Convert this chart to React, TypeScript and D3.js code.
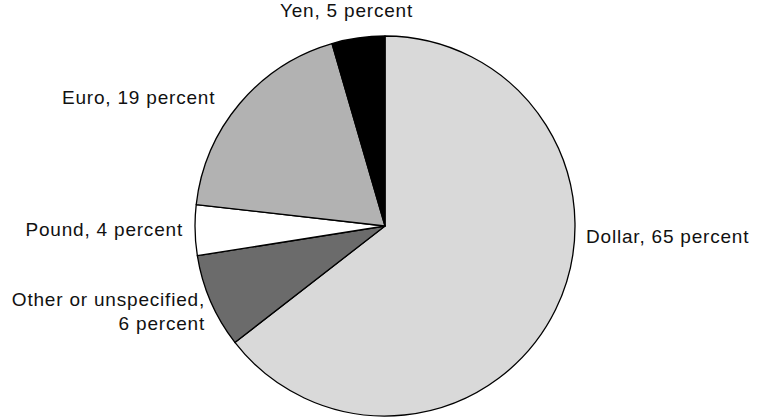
import { useEffect, useRef } from 'react';
import * as d3 from 'd3';

// slice order clockwise from 12 o'clock
const currencies = ['Dollar', 'Other or unspecified', 'Pound', 'Euro', 'Yen'];
const shares = [64.5, 8.0, 4.3, 18.7, 4.5];
const fills = ['#d9d9d9', '#6b6b6b', '#ffffff', '#b2b2b2', '#000000'];
const labelLines = [
  ['Dollar, 65 percent'],
  ['Other or unspecified,', '6 percent'],
  ['Pound, 4 percent'],
  ['Euro, 19 percent'],
  ['Yen, 5 percent'],
];
// label anchor positions (x, baseline y, anchor)
const labelPos: [number, number, string][] = [
  [586, 243, 'start'],
  [205, 306, 'end'],
  [183, 236, 'end'],
  [62, 104, 'start'],
  [280, 17, 'start'],
];

const W = 757;
const H = 417;

export default function App() {
  const svgRef = useRef<SVGSVGElement>(null);

  useEffect(() => {
    if (!svgRef.current) return;
    const svg = d3.select(svgRef.current);
    svg.selectAll('*').remove();

    const cx = 385;
    const cy = 226;
    const radius = 190;

    const pie = d3.pie<number>().value(d => d).sort(null);
    const arc = d3.arc<d3.PieArcDatum<number>>().innerRadius(0).outerRadius(radius);

    const g = svg.append('g').attr('transform', `translate(${cx},${cy})`);
    g.selectAll('path')
      .data(pie(shares))
      .enter()
      .append('path')
      .attr('d', arc)
      .attr('fill', (d, i) => fills[i])
      .attr('stroke', '#000')
      .attr('stroke-width', 1.3)
      .attr('stroke-linejoin', 'round');

    const labels = svg.append('g')
      .attr('font-family', '"Liberation Sans", Arial, sans-serif')
      .attr('font-size', 19)
      .attr('letter-spacing', 0.8)
      .attr('fill', '#111');

    currencies.forEach((c, i) => {
      const [x, y, anchor] = labelPos[i];
      const t = labels.append('text')
        .attr('x', x)
        .attr('y', y)
        .attr('text-anchor', anchor);
      labelLines[i].forEach((line, j) => {
        t.append('tspan')
          .attr('x', x)
          .attr('dy', j === 0 ? 0 : 24)
          .text(line);
      });
    });
  }, []);

  return (
    <div style={{ position: 'fixed', left: 0, top: 0, width: W, height: H, background: '#fff' }}>
      <svg ref={svgRef} width={W} height={H} style={{ display: 'block' }} />
    </div>
  );
}
